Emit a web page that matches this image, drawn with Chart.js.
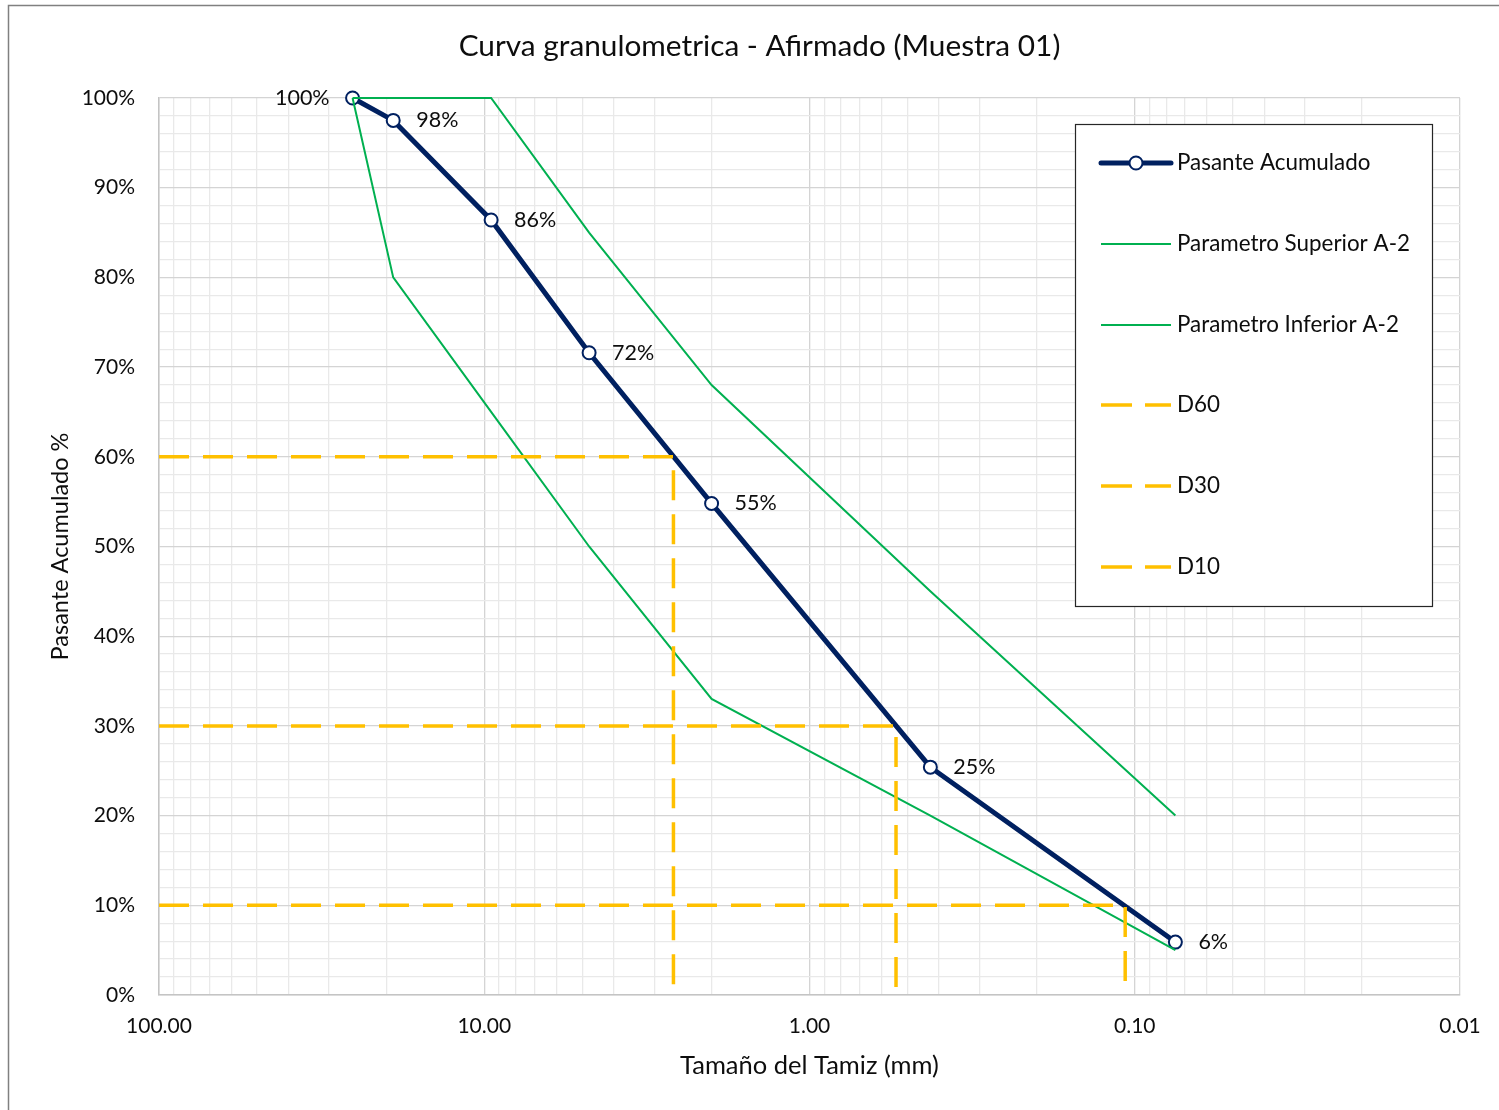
<!DOCTYPE html>
<html>
<head>
<meta charset="utf-8">
<title>Curva granulometrica - Afirmado (Muestra 01)</title>
<script src="https://cdn.jsdelivr.net/npm/chart.js@4.4.0/dist/chart.umd.min.js"></script>
<style>
  html, body { margin: 0; padding: 0; background: #ffffff; }
  #wrap { position: relative; width: 1499px; height: 1110px; }
  canvas { display: block; }
</style>
</head>
<body>
<div id="wrap"><canvas id="chart" width="1499" height="1110"></canvas></div>
<script>
// Sieve openings (mm) and percentage passing
const sieveSizes = [25.4, 19.05, 9.525, 4.76, 2.0, 0.425, 0.075];
const passing    = [100, 97.5, 86.4, 71.6, 54.8, 25.4, 5.9];

// A-2 gradation band
const upperA2 = [100, 100, 100, 85, 68, 45, 20];
const lowerA2 = [100, 80, 65, 50, 33, 20, 5];

// Characteristic diameters (mm) and their percentages
const d60X = [100, 2.62, 2.62];   const d60Y = [60, 60, 0];
const d30X = [100, 0.542, 0.542]; const d30Y = [30, 30, 0];
const d10X = [100, 0.107, 0.107]; const d10Y = [10, 10, 0];

// Axis labels
const xDecades    = [100, 10, 1, 0.1, 0.01];
const xTickLabels = ['100.00', '10.00', '1.00', '0.10', '0.01'];
const yMajorStep  = 10;
const yMinorStep  = 2;

const seriesNames = ['Pasante Acumulado', 'Parametro Superior A-2', 'Parametro Inferior A-2', 'D60', 'D30', 'D10'];

const FONT = 'Lato, "Open Sans", "DejaVu Sans", sans-serif';
const TEXT = '#0d0d0d';
const NAVY = '#002060';
const GREEN = '#00B050';
const GOLD = '#FFC000';
const GRID_MAJOR = '#d4d4d4';
const GRID_MINOR = '#e9e9e9';

const pts = (xs, ys) => xs.map((x, i) => ({ x: x, y: ys[i] }));

// Log grid: 1..9 x 10^n for every decade between 0.01 and 100
const xGridValues = [];
for (let e = -2; e <= 1; e++) {
  for (let k = 1; k <= 9; k++) xGridValues.push(+(k * Math.pow(10, e)).toPrecision(6));
}
xGridValues.push(100);
const isDecade = v => Math.abs(Math.log10(v) - Math.round(Math.log10(v))) < 1e-9;

const dashed = [30, 14];

const datasets = [
  {
    label: seriesNames[0], data: pts(sieveSizes, passing),
    borderColor: NAVY, borderWidth: 5, backgroundColor: '#ffffff',
    pointRadius: 6.5, pointBorderWidth: 2, pointBorderColor: NAVY, pointBackgroundColor: '#ffffff',
    pointHoverRadius: 6.5, order: 5, clip: false, tension: 0
  },
  {
    label: seriesNames[1], data: pts(sieveSizes, upperA2),
    borderColor: GREEN, borderWidth: 2, pointRadius: 0, order: 4, clip: false
  },
  {
    label: seriesNames[2], data: pts(sieveSizes, lowerA2),
    borderColor: GREEN, borderWidth: 2, pointRadius: 0, order: 3, clip: false
  },
  {
    label: seriesNames[3], data: pts(d60X, d60Y),
    borderColor: GOLD, borderWidth: 3.5, borderDash: dashed, pointRadius: 0, order: 2, clip: false
  },
  {
    label: seriesNames[4], data: pts(d30X, d30Y),
    borderColor: GOLD, borderWidth: 3.5, borderDash: dashed, pointRadius: 0, order: 1, clip: false
  },
  {
    label: seriesNames[5], data: pts(d10X, d10Y),
    borderColor: GOLD, borderWidth: 3.5, borderDash: dashed, pointRadius: 0, order: 0, clip: false
  }
];

// Frame, title, value labels and boxed legend
const decorations = {
  id: 'decorations',
  beforeDraw(chart) {
    const ctx = chart.ctx;
    ctx.save();
    ctx.fillStyle = '#ffffff';
    ctx.fillRect(0, 0, chart.width, chart.height);
    ctx.strokeStyle = '#808080';
    ctx.lineWidth = 1.5;
    ctx.beginPath();
    ctx.moveTo(8.5, chart.height);
    ctx.lineTo(8.5, 5.5);
    ctx.lineTo(chart.width, 5.5);
    ctx.stroke();
    ctx.restore();
  },
  afterDatasetsDraw(chart) {
    const ctx = chart.ctx;
    const meta = chart.getDatasetMeta(0);
    ctx.save();
    ctx.font = '21.5px ' + FONT;
    ctx.fillStyle = TEXT;
    ctx.textBaseline = 'middle';
    meta.data.forEach((p, i) => {
      const txt = Math.round(passing[i]) + '%';
      if (i === 0) {
        ctx.textAlign = 'right';
        ctx.fillText(txt, p.x - 23, p.y);
      } else {
        ctx.textAlign = 'left';
        ctx.fillText(txt, p.x + 23, p.y);
      }
    });
    ctx.restore();
  },
  afterDraw(chart) {
    const ctx = chart.ctx;
    ctx.save();
    // title
    ctx.font = '29.8px ' + FONT;
    ctx.fillStyle = TEXT;
    ctx.textAlign = 'center';
    ctx.textBaseline = 'middle';
    ctx.fillText('Curva granulometrica - Afirmado (Muestra 01)', 759.5, 46);

    // legend box
    const bx = 1075.5, by = 124.5, bw = 357, bh = 482;
    ctx.fillStyle = '#ffffff';
    ctx.fillRect(bx, by, bw, bh);
    ctx.strokeStyle = '#262626';
    ctx.lineWidth = 1.2;
    ctx.strokeRect(bx, by, bw, bh);

    const rowY = [163, 244, 325, 405, 486, 567];
    const x0 = 1101, x1 = 1171, tx = 1177;
    ctx.font = '22.4px ' + FONT;
    ctx.textAlign = 'left';
    ctx.textBaseline = 'middle';
    chart.data.datasets.forEach((ds, i) => {
      const y = rowY[i];
      ctx.save();
      ctx.strokeStyle = ds.borderColor;
      ctx.lineWidth = ds.borderWidth;
      ctx.lineCap = i === 0 ? 'round' : 'butt';
      if (ds.borderDash) {
        ctx.beginPath();
        ctx.moveTo(x0, y); ctx.lineTo(x0 + 31, y);
        ctx.moveTo(x0 + 44, y); ctx.lineTo(x1, y);
        ctx.stroke();
      } else {
        ctx.beginPath();
        ctx.moveTo(x0, y); ctx.lineTo(x1, y);
        ctx.stroke();
      }
      if (i === 0) {
        ctx.beginPath();
        ctx.arc((x0 + x1) / 2, y, ds.pointRadius, 0, Math.PI * 2);
        ctx.fillStyle = '#ffffff';
        ctx.fill();
        ctx.lineWidth = ds.pointBorderWidth;
        ctx.strokeStyle = ds.pointBorderColor;
        ctx.stroke();
      }
      ctx.restore();
      ctx.fillStyle = TEXT;
      ctx.fillText(ds.label, tx, y);
    });
    ctx.restore();
  }
};

new Chart(document.getElementById('chart'), {
  type: 'line',
  data: { datasets: datasets },
  plugins: [decorations],
  options: {
    responsive: false,
    animation: false,
    events: [],
    layout: { padding: { top: 98, right: 39, bottom: 0, left: 0 } },
    plugins: {
      legend: { display: false },
      title: { display: false },
      tooltip: { enabled: false }
    },
    scales: {
      x: {
        type: 'logarithmic',
        reverse: true,
        min: 0.01,
        max: 100,
        afterBuildTicks(scale) {
          scale.ticks = xGridValues.map(v => ({ value: v }));
        },
        afterFit(scale) { scale.height = 115; },
        ticks: {
          autoSkip: false,
          maxRotation: 0,
          padding: 19,
          color: TEXT,
          font: { family: FONT, size: 21 },
          callback(value) {
            const idx = xDecades.findIndex(d => Math.abs(d - value) / d < 1e-6);
            return idx >= 0 ? xTickLabels[idx] : '';
          }
        },
        grid: {
          drawTicks: false,
          lineWidth: 1.3,
          color: ctx => (ctx.tick && isDecade(ctx.tick.value)) ? GRID_MAJOR : GRID_MINOR
        },
        border: { color: '#c4c4c4', width: 1.5 },
        title: {
          display: true,
          text: 'Tamaño del Tamiz (mm)',
          color: TEXT,
          font: { family: FONT, size: 25.5 },
          padding: { top: 0, bottom: 29 }
        }
      },
      y: {
        type: 'linear',
        min: 0,
        max: 100,
        afterFit(scale) { scale.width = 159; },
        ticks: {
          stepSize: yMinorStep,
          autoSkip: false,
          padding: 24,
          color: TEXT,
          font: { family: FONT, size: 21 },
          callback(value) {
            return value % yMajorStep === 0 ? value + '%' : '';
          }
        },
        grid: {
          drawTicks: false,
          lineWidth: 1.3,
          color: ctx => (ctx.tick && ctx.tick.value % yMajorStep === 0) ? GRID_MAJOR : GRID_MINOR
        },
        border: { color: '#c4c4c4', width: 1.5 },
        title: {
          display: true,
          text: 'Pasante Acumulado %',
          color: TEXT,
          font: { family: FONT, size: 23.5 },
          padding: { top: 46, bottom: 0 }
        }
      }
    }
  }
});
</script>
</body>
</html>
